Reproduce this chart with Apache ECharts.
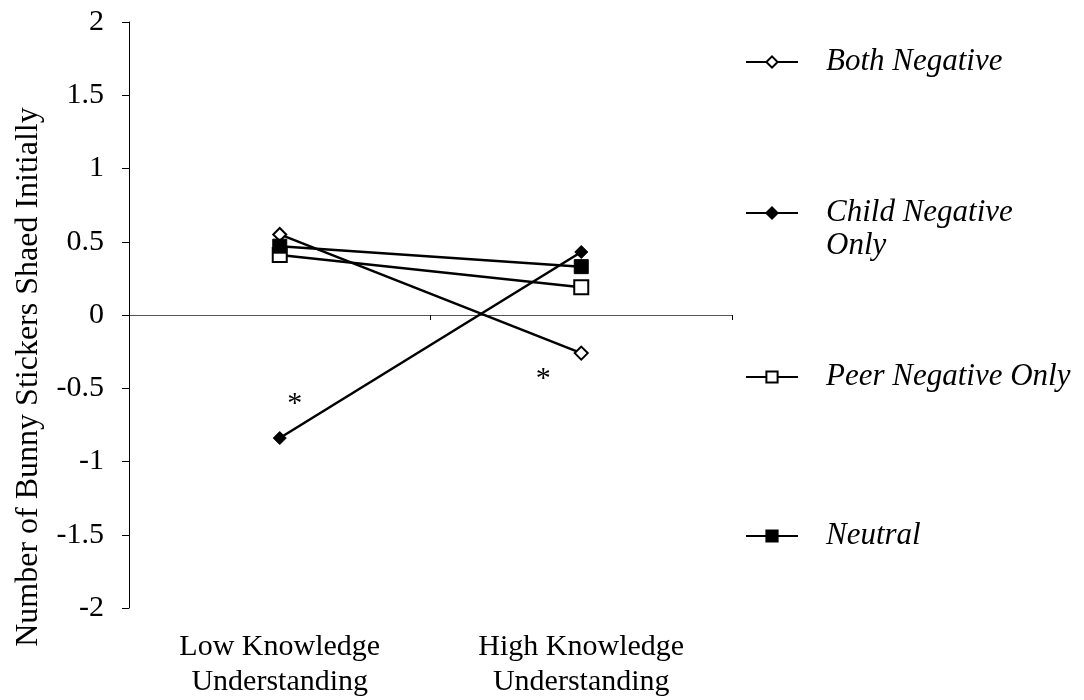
<!DOCTYPE html>
<html>
<head>
<meta charset="utf-8">
<script src="https://cdn.jsdelivr.net/npm/echarts@6/dist/echarts.min.js"></script>
<style>
html, body { margin: 0; padding: 0; background: #fff; }
#main { width: 1084px; height: 700px; }
</style>
</head>
<body>
<div id="main"></div>
<script>
var chart = echarts.init(document.getElementById('main'));

var categories = ['Low Knowledge\nUnderstanding', 'High Knowledge\nUnderstanding'];
var bothNegative = [0.55, -0.26];
var childNegative = [-0.84, 0.43];
var peerNegative = [0.41, 0.19];
var neutral = [0.47, 0.33];
// asterisks: [category, value, x offset]
var stars = [[categories[0], -0.61, 15], [categories[1], -0.44, -38]];

var font = 'Liberation Serif';

function makeSeries(name, data, symbol, size) {
    return {
        name: name,
        type: 'line',
        data: data,
        symbol: symbol,
        symbolSize: size,
        showAllSymbol: true,
        lineStyle: { color: '#000', width: 2.5 },
        itemStyle: { color: '#000', borderColor: '#000', borderWidth: 1 },
        emphasis: { disabled: true }
    };
}

function makeLegend(name, top) {
    return {
        data: [{ name: name }],
        left: 745,
        top: top,
        padding: 0,
        itemWidth: 52,
        itemHeight: 14,
        // the blank first line keeps the icon level with "Child Negative"
        formatter: function (n) { return n === 'Child Negative Only' ? '\nChild Negative\nOnly' : n; },
        textStyle: {
            fontFamily: font, fontSize: 31, fontStyle: 'italic', color: '#000',
            lineHeight: 33, padding: [0, 0, 0, 23]
        }
    };
}

var childSeries = makeSeries('Child Negative Only', childNegative, 'diamond', 13);
childSeries.markPoint = {
    symbol: 'circle',
    symbolSize: 1,
    itemStyle: { color: 'rgba(0,0,0,0)' },
    data: stars.map(function (s) {
        return {
            coord: [s[0], s[1]],
            label: { show: true, position: 'inside', formatter: '*', offset: [s[2], 0], fontFamily: font, fontSize: 30, color: '#000' }
        };
    })
};

option = {
    backgroundColor: '#fff',
    animation: false,
    grid: { left: 129, right: 352, top: 22, bottom: 92 },
    legend: [
        makeLegend('Both Negative', 45.5),
        makeLegend('Child Negative Only', 163.5),
        makeLegend('Peer Negative Only', 360.5),
        makeLegend('Neutral', 519.5)
    ],
    xAxis: [{
        type: 'category',
        data: categories,
        axisLine: { onZero: true, lineStyle: { color: '#555', width: 1 } },
        axisTick: { show: true, length: 5, lineStyle: { color: '#000' } },
        axisLabel: { show: false },
        splitLine: { show: false }
    }, {
        type: 'category',
        data: categories,
        position: 'bottom',
        axisLine: { show: false },
        axisTick: { show: false },
        axisLabel: { margin: 22, fontFamily: font, fontSize: 30, color: '#000', lineHeight: 35 },
        splitLine: { show: false }
    }],
    yAxis: {
        type: 'value',
        min: -2,
        max: 2,
        interval: 0.5,
        name: 'Number of Bunny Stickers Shaed Initially',
        nameLocation: 'middle',
        nameGap: 84,
        nameTextStyle: { fontFamily: font, fontSize: 32, color: '#000', padding: [0, 124, 0, 0] },
        axisLine: { show: true, onZero: false, lineStyle: { color: '#000', width: 1 } },
        axisTick: { show: true, length: 7, lineStyle: { color: '#000' } },
        axisLabel: { margin: 25, fontFamily: font, fontSize: 30, color: '#000' },
        splitLine: { show: false }
    },
    series: [
        makeSeries('Both Negative', bothNegative, 'emptyDiamond', 13),
        childSeries,
        makeSeries('Peer Negative Only', peerNegative, 'emptyRect', 14),
        makeSeries('Neutral', neutral, 'rect', 14)
    ]
};
chart.setOption(option);
</script>
</body>
</html>
